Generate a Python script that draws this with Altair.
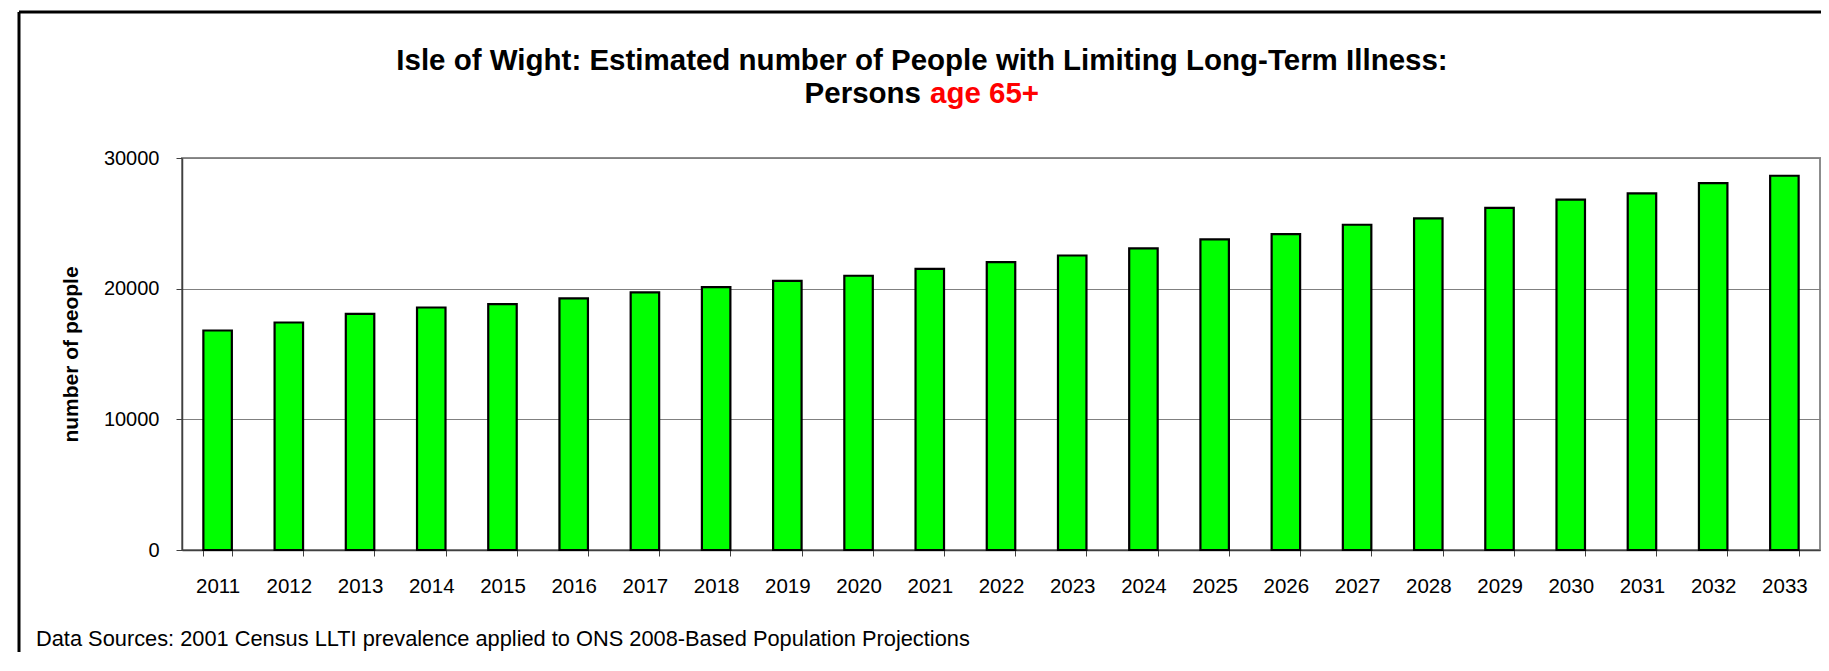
import altair as alt
import pandas as pd

years = [str(y) for y in range(2011, 2034)]
values = [16800, 17410, 18070, 18560, 18820, 19250, 19710, 20120, 20600, 20990,
          21520, 22030, 22540, 23080, 23770, 24180, 24890, 25380, 26190, 26810,
          27290, 28080, 28640]
y_ticks = [0, 10000, 20000, 30000]

title_line1 = "Isle of Wight: Estimated number of People with Limiting Long-Term Illness:"
title_line2a = "Persons"
title_line2b = "age 65+"
y_title = "number of people"
footnote = "Data Sources: 2001 Census LLTI prevalence applied to ONS 2008-Based Population Projections"

FONT = "Liberation Sans, Arial, sans-serif"
W, H = 1638, 392
LEFT, TOP, RIGHT, BOTTOM = 174, 150, 1, 102

df = pd.DataFrame({"year": years, "value": values})

bars = alt.Chart(df).mark_bar(
    color="#00FF00", stroke="#000000", strokeWidth=2.2
).encode(
    x=alt.X("year:N", title=None, sort=None,
            scale=alt.Scale(paddingInner=0.6, paddingOuter=0.3),
            axis=alt.Axis(labelAngle=0, tickBand="extent", labelFontSize=20.5,
                          labelFont=FONT, labelColor="#000000", labelPadding=20,
                          tickSize=6, tickColor="#404040", domainColor="#404040",
                          domainWidth=1.5, grid=False)),
    y=alt.Y("value:Q", title=y_title,
            scale=alt.Scale(domain=[0, 30000], nice=False),
            axis=alt.Axis(values=y_ticks, format="d", labelFontSize=20, labelFont=FONT,
                          labelColor="#000000", labelPadding=17, tickSize=6,
                          tickColor="#404040", domainColor="#404040", domainWidth=1.5,
                          gridColor="#808080", gridWidth=1.2,
                          titleFont=FONT, titleFontSize=21, titleFontWeight="bold",
                          titleColor="#000000", titlePadding=22)),
)

one = pd.DataFrame({"k": [0]})

def txt(s, x, y, size, weight="normal", color="#000000", align="center"):
    return alt.Chart(one).mark_text(
        text=s, font=FONT, fontSize=size, fontWeight=weight, color=color,
        align=align, baseline="middle"
    ).encode(x=alt.value(x), y=alt.value(y))

OX, OY = 8 + LEFT, 8 + TOP  # plot origin in page coordinates

t1 = txt(title_line1, 922 - OX, 61 - OY, 29.5, "bold")
t2a = txt(title_line2a, 921 - OX, 94 - OY, 29.5, "bold", align="right")
t2b = txt(title_line2b, 930 - OX, 94 - OY, 29.5, "bold", color="#FF0000", align="left")
foot = txt(footnote, 36 - OX, 639 - OY, 21.8, align="left")

frame_top = alt.Chart(one).mark_rule(color="#000000", strokeWidth=3).encode(
    x=alt.value(19 - OX), x2=alt.value(1840 - OX), y=alt.value(12 - OY))
frame_left = alt.Chart(one).mark_rule(color="#000000", strokeWidth=3).encode(
    x=alt.value(19 - OX), y=alt.value(12 - OY), y2=alt.value(700 - OY))

chart = alt.layer(bars, t1, t2a, t2b, foot, frame_top, frame_left).properties(
    width=W, height=H,
    autosize=alt.AutoSizeParams(type="none"),
    padding={"left": LEFT, "top": TOP, "right": RIGHT, "bottom": BOTTOM},
    background="#FFFFFF",
).configure_view(
    stroke="#8c8c8c", strokeWidth=2
)

chart.save("out.html", embed_options={"renderer": "svg", "actions": False})
